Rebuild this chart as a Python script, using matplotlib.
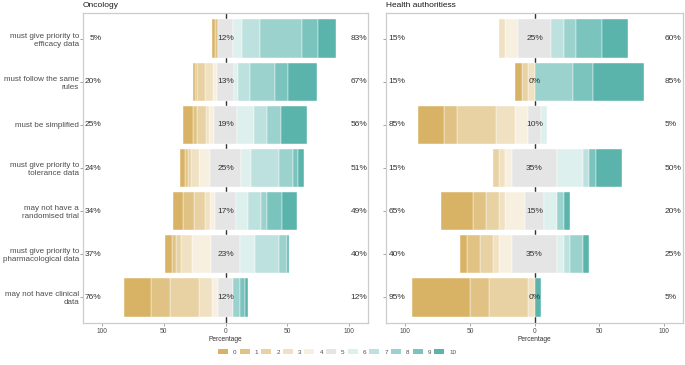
import numpy as np
import matplotlib
matplotlib.use('Agg')
from matplotlib import pyplot as plt
from matplotlib.patches import Patch

plt.rcParams['font.family'] = ['Liberation Sans', 'DejaVu Sans']

items = ['must give priority to\nefficacy data',
         'must follow the same\nrules',
         'must be simplified',
         'must give priority to\ntolerance data',
         'may not have a\nrandomised trial',
         'must give priority to\npharmacological data',
         'may not have clinical\ndata']
levels = ['0', '1', '2', '3', '4', '5', '6', '7', '8', '9', '10']

# percent of answers per level 0..10, one list per item (top to bottom)
onc_pct = [
  [2.4, 2.4, 0, 0, 0, 12.2, 7.3, 14.6, 34.1, 12.2, 14.6],
  [1.9, 1.9, 6.5, 6.5, 3.2, 13, 3.8, 9.7, 20.2, 9.9, 23.4],
  [8.6, 3.0, 7.3, 1.9, 4.2, 19, 13.4, 10.2, 11.3, 0, 21.1],
  [3.8, 2.6, 2.6, 6.5, 8.5, 25, 8.3, 22.3, 11.6, 3.8, 5.0],
  [8.6, 8.6, 9.1, 4.0, 3.7, 17, 9.9, 10.2, 4.8, 11.8, 12.3],
  [5.4, 3.5, 3.5, 8.9, 15.7, 23, 12.4, 19.1, 6.7, 0, 1.8],
  [22.0, 15.3, 23.4, 10.5, 4.8, 12, 0, 0, 5.5, 4.0, 2.5],
]
ha_pct = [
  [0, 0, 0, 5, 10, 25, 0, 10, 10, 20, 20],
  [5, 0, 5, 5, 0, 0, 0, 0, 30, 15, 40],
  [20, 10, 30, 15, 10, 10, 5, 0, 0, 0, 0],
  [0, 0, 5, 5, 5, 35, 20, 5, 0, 5, 20],
  [25, 10, 10, 5, 15, 15, 10, 0, 5, 0, 5],
  [5, 10, 10, 5, 10, 35, 5, 5, 10, 0, 5],
  [45, 15, 30, 5, 0, 0, 0, 0, 0, 0, 5],
]

colors = ['#D8B365', '#E0C284', '#E8D1A2', '#EFE1C1', '#F7F0E0', '#E5E5E5',
          '#DEF0EE', '#BDE1DE', '#9CD2CD', '#7BC3BD', '#5AB4AC']
txt = '#333333'
grey30 = '#4D4D4D'


def plotLikert(ax, data, title, showLabels):
  ypos = np.arange(len(items))
  ax.axvline(0, color='#333333', lw=1.0, zorder=1)
  for i, row in enumerate(data):
    neutral = row[5]
    # negative side: level 4 next to the neutral half, level 0 outermost
    left = -neutral / 2.0
    for k in range(4, -1, -1):
      left -= row[k]
      if row[k] > 0:
        ax.barh(ypos[i], row[k], left=left, height=0.9, color=colors[k],
                edgecolor='white', linewidth=0.3, zorder=2)
    if neutral > 0:
      ax.barh(ypos[i], neutral, left=-neutral / 2.0, height=0.9, color=colors[5],
              edgecolor='white', linewidth=0.3, zorder=2)
    start = neutral / 2.0
    for k in range(6, 11):
      if row[k] > 0:
        ax.barh(ypos[i], row[k], left=start, height=0.9, color=colors[k],
                edgecolor='white', linewidth=0.3, zorder=2)
      start += row[k]
    low = sum(row[:5])
    high = sum(row[6:])
    ax.text(-100, ypos[i], '%d%%' % round(low), ha='right', va='center',
            fontsize=6, color=txt, zorder=3)
    ax.text(0, ypos[i], '%d%%' % round(neutral), ha='center', va='center',
            fontsize=6, color=txt, zorder=3)
    ax.text(101, ypos[i], '%d%%' % round(high), ha='left', va='center',
            fontsize=6, color=txt, zorder=3)

  ax.set_xlim(-115, 115)
  ax.set_ylim(len(items) - 0.4, -0.6)
  ax.set_yticks(ypos)
  if showLabels:
    ax.set_yticklabels(items, fontsize=5.8, color=grey30, ha='right')
  else:
    ax.set_yticklabels([])
  ax.set_xticks([-100, -50, 0, 50, 100])
  ax.set_xticklabels(['100', '50', '0', '50', '100'], fontsize=4.8, color=grey30)
  ax.tick_params(axis='both', length=2, width=0.5, color='#7F7F7F', pad=1.5)
  ax.tick_params(axis='y', pad=0.8)
  ax.set_xlabel('Percentage', fontsize=4.8, color=txt, labelpad=0.5)
  for s in ax.spines.values():
    s.set_color('#CCCCCC')
    s.set_linewidth(0.9)
  ax.set_title(title, loc='left', fontsize=6, color='#1A1A1A', pad=4)


fig = plt.figure(figsize=(6.85, 3.65), dpi=100)
ax1 = fig.add_axes([83 / 685, 42 / 365, 285 / 685, 310 / 365])
ax2 = fig.add_axes([386 / 685, 42 / 365, 297 / 685, 310 / 365])
plotLikert(ax1, onc_pct, 'Oncology', True)
plotLikert(ax2, ha_pct, 'Health authoritiess', False)

handles = [Patch(facecolor=c, edgecolor='none') for c in colors]
fig.legend(handles, levels, loc='center', bbox_to_anchor=(337 / 685, 1 - 352 / 365),
           ncol=11, frameon=False, fontsize=4.5, handlelength=1.6, handleheight=0.75,
           handletextpad=0.8, columnspacing=0.5, labelcolor=grey30)

fig.savefig('out.png', dpi=100)
